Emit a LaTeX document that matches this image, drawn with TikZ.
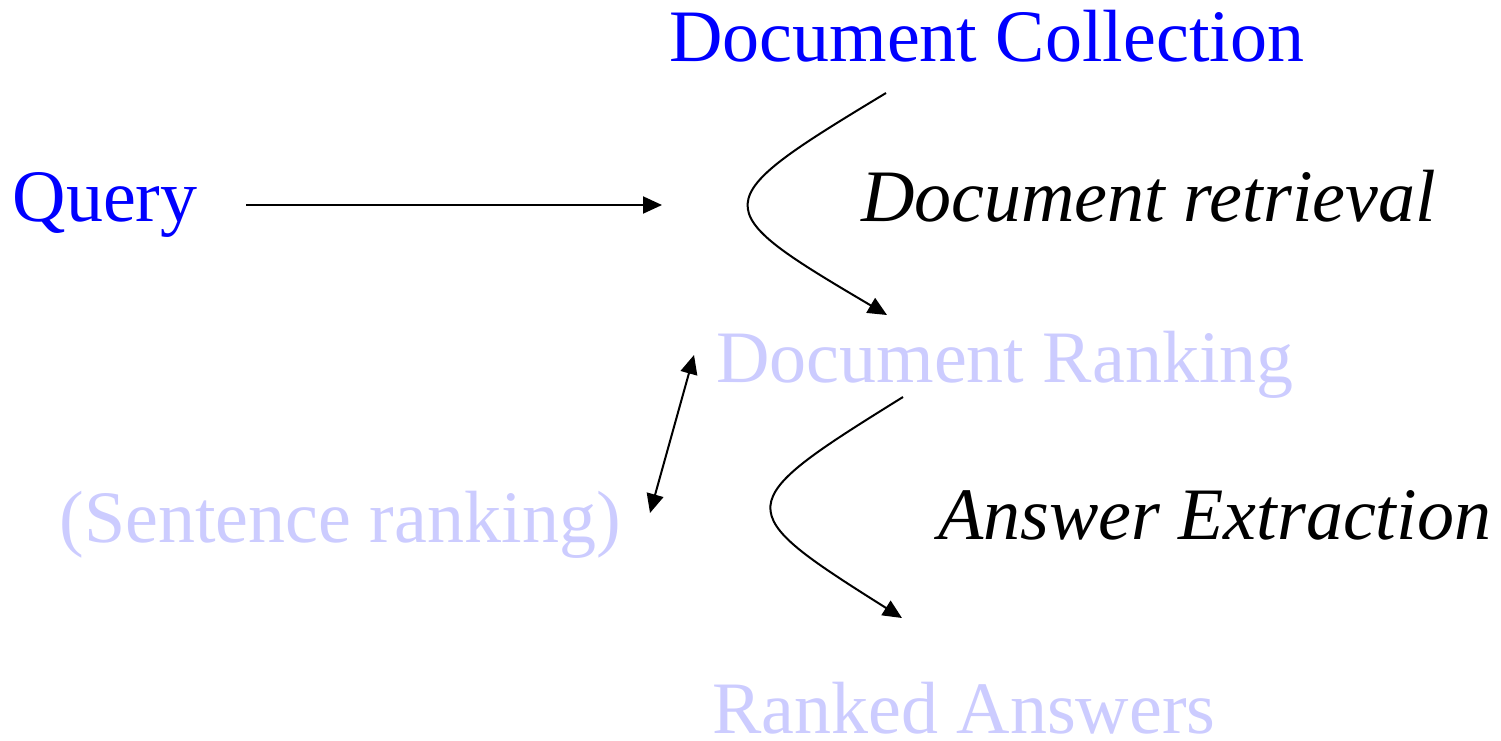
\documentclass[tikz,border=0pt]{standalone}
\usepackage{fontspec}
\setmainfont{Liberation Serif}
\usetikzlibrary{arrows.meta}
\definecolor{qblue}{RGB}{0,0,255}
\definecolor{paleblue}{RGB}{204,204,255}
\tikzset{
  lbl/.style={inner sep=0pt, anchor=base west, font=\fontsize{74}{80}\selectfont},
  active/.style={lbl, text=qblue},
  faded/.style={lbl, text=paleblue},
  step label/.style={lbl, font=\fontsize{74}{80}\selectfont\itshape, text=black},
  conn/.style={line width=2pt, draw=black, -{Triangle[length=19pt,width=17pt]}},
  dconn/.style={line width=2pt, draw=black, {Triangle[length=19pt,width=17pt]}-{Triangle[length=19pt,width=17pt]}}
}
\begin{document}
\begin{tikzpicture}[x=1pt,y=-1pt]
\useasboundingbox (0,0) rectangle (1501,740);
\node[active] (coll) at (669,61) {Document Collection};
\node[active] (query) at (12.5,221) {Query};
\node[step label] (retr) at (861,221) {Document retrieval};
\node[faded] (rank) at (716,382) {Document Ranking};
\node[faded] (sent) at (59.5,542) {(Sentence ranking)};
\node[step label] (extr) at (938,539) {Answer Extraction};
\node[faded] (ans) at (712,733) {Ranked Answers};
\coordinate (qs) at (246,205);
\coordinate (qe) at (662,205);
\coordinate (c1s) at (886,93);
\coordinate (c1e) at (887,315);
\coordinate (c2s) at (903,397);
\coordinate (c2e) at (902,618);
\coordinate (da) at (694,355);
\coordinate (db) at (650,513);
\draw[conn] (qs) -- (qe);
\draw[conn] (c1s) .. controls (704,203) and (704,207) .. (c1e);
\draw[conn] (c2s) .. controls (729,505) and (729,509) .. (c2e);
\draw[dconn] (db) -- (da);
\end{tikzpicture}
\end{document}
